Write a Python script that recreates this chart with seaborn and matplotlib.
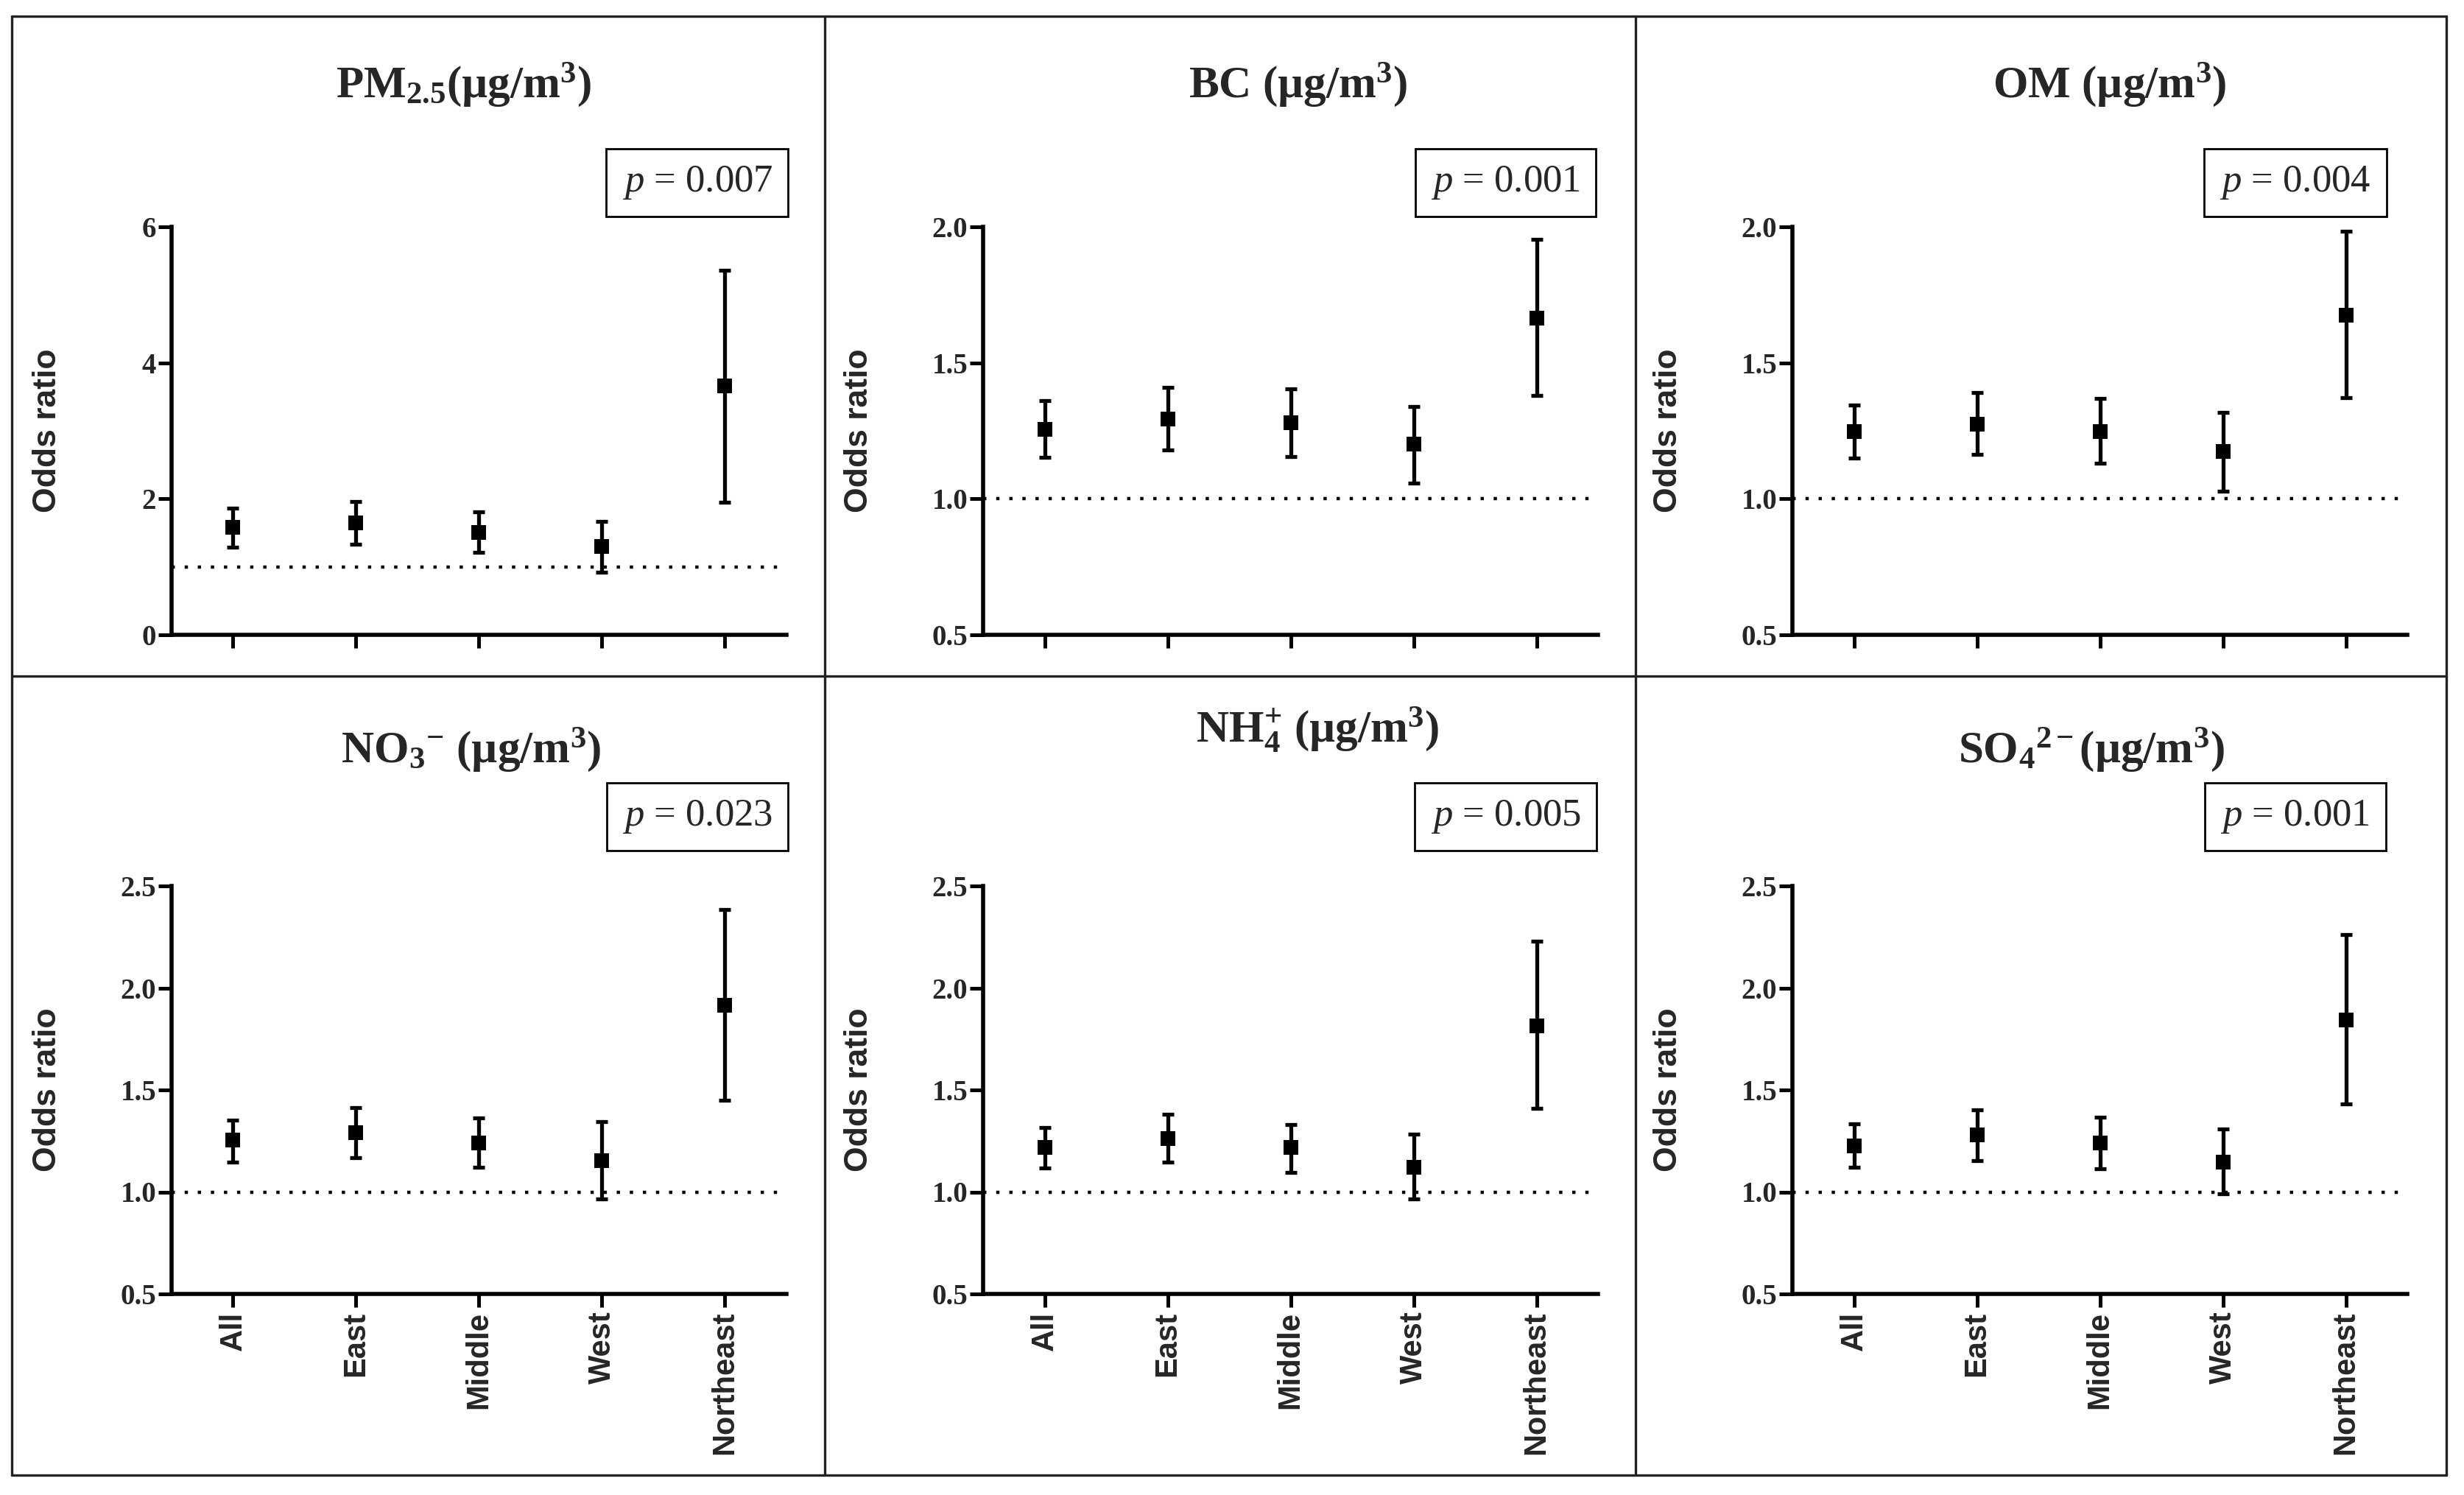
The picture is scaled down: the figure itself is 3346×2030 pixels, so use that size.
import numpy as np
import pandas as pd
import matplotlib
matplotlib.use("Agg")
import matplotlib.pyplot as plt
from matplotlib.lines import Line2D
import seaborn as sns

# Regions on the x axis
regions = ["All", "East", "Middle", "West", "Northeast"]

# Odds ratios and 95% CI
pm25_or = [1.58, 1.65, 1.51, 1.30, 3.66]
pm25_lo = [1.29, 1.33, 1.21, 0.92, 1.95]
pm25_hi = [1.86, 1.96, 1.81, 1.67, 5.36]

bc_or = [1.256, 1.292, 1.279, 1.200, 1.665]
bc_lo = [1.152, 1.180, 1.156, 1.059, 1.379]
bc_hi = [1.360, 1.410, 1.403, 1.338, 1.954]

om_or = [1.248, 1.275, 1.248, 1.173, 1.676]
om_lo = [1.149, 1.163, 1.132, 1.027, 1.371]
om_hi = [1.346, 1.390, 1.370, 1.319, 1.983]

no3_or = [1.253, 1.292, 1.240, 1.154, 1.914]
no3_lo = [1.148, 1.169, 1.120, 0.966, 1.448]
no3_hi = [1.352, 1.414, 1.362, 1.344, 2.383]

nh4_or = [1.219, 1.263, 1.219, 1.122, 1.815]
nh4_lo = [1.117, 1.146, 1.096, 0.966, 1.409]
nh4_hi = [1.315, 1.380, 1.331, 1.284, 2.229]

so4_or = [1.227, 1.279, 1.240, 1.148, 1.844]
so4_lo = [1.120, 1.154, 1.115, 0.992, 1.430]
so4_hi = [1.333, 1.401, 1.365, 1.307, 2.263]

titles = [r"PM$_{2.5}$(µg/m$^{3}$)", r"BC (µg/m$^{3}$)", r"OM (µg/m$^{3}$)",
          r"NO$_{3}$$^{-}$ (µg/m$^{3}$)", r"NH$_{4}^{+}$ (µg/m$^{3}$)", r"SO$_{4}$$^{2-}$(µg/m$^{3}$)"]
p_values = ["0.007", "0.001", "0.004", "0.023", "0.005", "0.001"]

y_limits = [(0, 6), (0.5, 2.0), (0.5, 2.0), (0.5, 2.5), (0.5, 2.5), (0.5, 2.5)]
y_ticks = [[0, 2, 4, 6], [0.5, 1.0, 1.5, 2.0], [0.5, 1.0, 1.5, 2.0],
           [0.5, 1.0, 1.5, 2.0, 2.5], [0.5, 1.0, 1.5, 2.0, 2.5], [0.5, 1.0, 1.5, 2.0, 2.5]]

panels = [(pm25_or, pm25_lo, pm25_hi), (bc_or, bc_lo, bc_hi), (om_or, om_lo, om_hi),
          (no3_or, no3_lo, no3_hi), (nh4_or, nh4_lo, nh4_hi), (so4_or, so4_lo, so4_hi)]

sns.set_theme(style="ticks")
plt.rcParams["font.family"] = ["Liberation Sans", "DejaVu Sans"]
plt.rcParams["mathtext.fontset"] = "custom"
plt.rcParams["mathtext.default"] = "bf"
plt.rcParams["mathtext.bf"] = "Liberation Serif:bold"
plt.rcParams["mathtext.rm"] = "Liberation Serif"
plt.rcParams["mathtext.it"] = "Liberation Serif:italic"

W, H = 3346, 2030
fig = plt.figure(figsize=(W / 200, H / 200), dpi=200)

# layout in pixels
col_left = [233, 1335, 2434]
ax_w = 835
row_top = [308, 1203]
ax_h = 554
title_x = [0.475, 0.512, 0.516, 0.487, 0.544, 0.486]
title_y = [1.318, 1.318, 1.318, 1.303, 1.352, 1.303]
box_x = [0.855, 0.85, 0.818]
box_y = [1.108, 1.17]

for i, (vals, lo, hi) in enumerate(panels):
    r, c = divmod(i, 3)
    ax = fig.add_axes([col_left[c] / W, 1 - (row_top[r] + ax_h) / H, ax_w / W, ax_h / H])
    vals = np.array(vals)
    lo = np.array(lo)
    hi = np.array(hi)
    df = pd.DataFrame({"Region": regions, "OR": vals})

    ax.errorbar(regions, vals, yerr=[vals - lo, hi - vals], fmt="none", ecolor="black",
                elinewidth=1.9, capsize=3, capthick=1.9, zorder=2)
    sns.scatterplot(data=df, x="Region", y="OR", marker="s", s=48, color="black",
                    edgecolor="black", linewidth=0, ax=ax, zorder=3)
    ax.axhline(1.0, color="black", lw=1.6, linestyle=(0, (1, 3.0)), zorder=1)

    ax.set_xlim(-0.5, 4.5)
    ax.set_ylim(*y_limits[i])
    ax.set_yticks(y_ticks[i])
    ax.set_xlabel("")
    ax.set_ylabel("Odds ratio", fontsize=16, fontweight="bold")
    ax.yaxis.set_label_coords(-0.177, 0.5)

    sns.despine(ax=ax)
    for s in ["left", "bottom"]:
        ax.spines[s].set_linewidth(2.0)
        ax.spines[s].set_color("black")
    ax.tick_params(axis="both", length=6.5, width=1.8, color="black", direction="out")
    ax.tick_params(axis="y", pad=1, labelsize=14)
    for lab in ax.get_yticklabels():
        lab.set_fontfamily("Liberation Serif")
        lab.set_fontweight("bold")
    if r == 0:
        ax.tick_params(axis="x", labelbottom=False)
    else:
        ax.tick_params(axis="x", pad=2, labelsize=15)
        for lab in ax.get_xticklabels():
            lab.set_rotation(90)
            lab.set_fontweight("bold")

    ax.text(title_x[i], title_y[i], titles[i], transform=ax.transAxes, ha="center",
            va="baseline", fontsize=22, fontweight="bold", fontfamily="Liberation Serif")
    ax.text(box_x[c], box_y[r], r"$\mathit{p}$ = " + p_values[i], transform=ax.transAxes,
            ha="center", va="center", fontsize=19, fontfamily="Liberation Serif",
            bbox=dict(boxstyle="square,pad=0.4", fc="white", ec="black", lw=1.0))

# panel frame lines
xs = [16, 1120, 2221, 3322]
ys = [22, 918, 2003]
for x in xs:
    fig.add_artist(Line2D([x / W, x / W], [1 - ys[0] / H, 1 - ys[-1] / H], color="#222222", lw=1.2))
for y in ys:
    fig.add_artist(Line2D([xs[0] / W, xs[-1] / W], [1 - y / H, 1 - y / H], color="#222222", lw=1.2))

fig.savefig("out.png", dpi=200, facecolor="white")
